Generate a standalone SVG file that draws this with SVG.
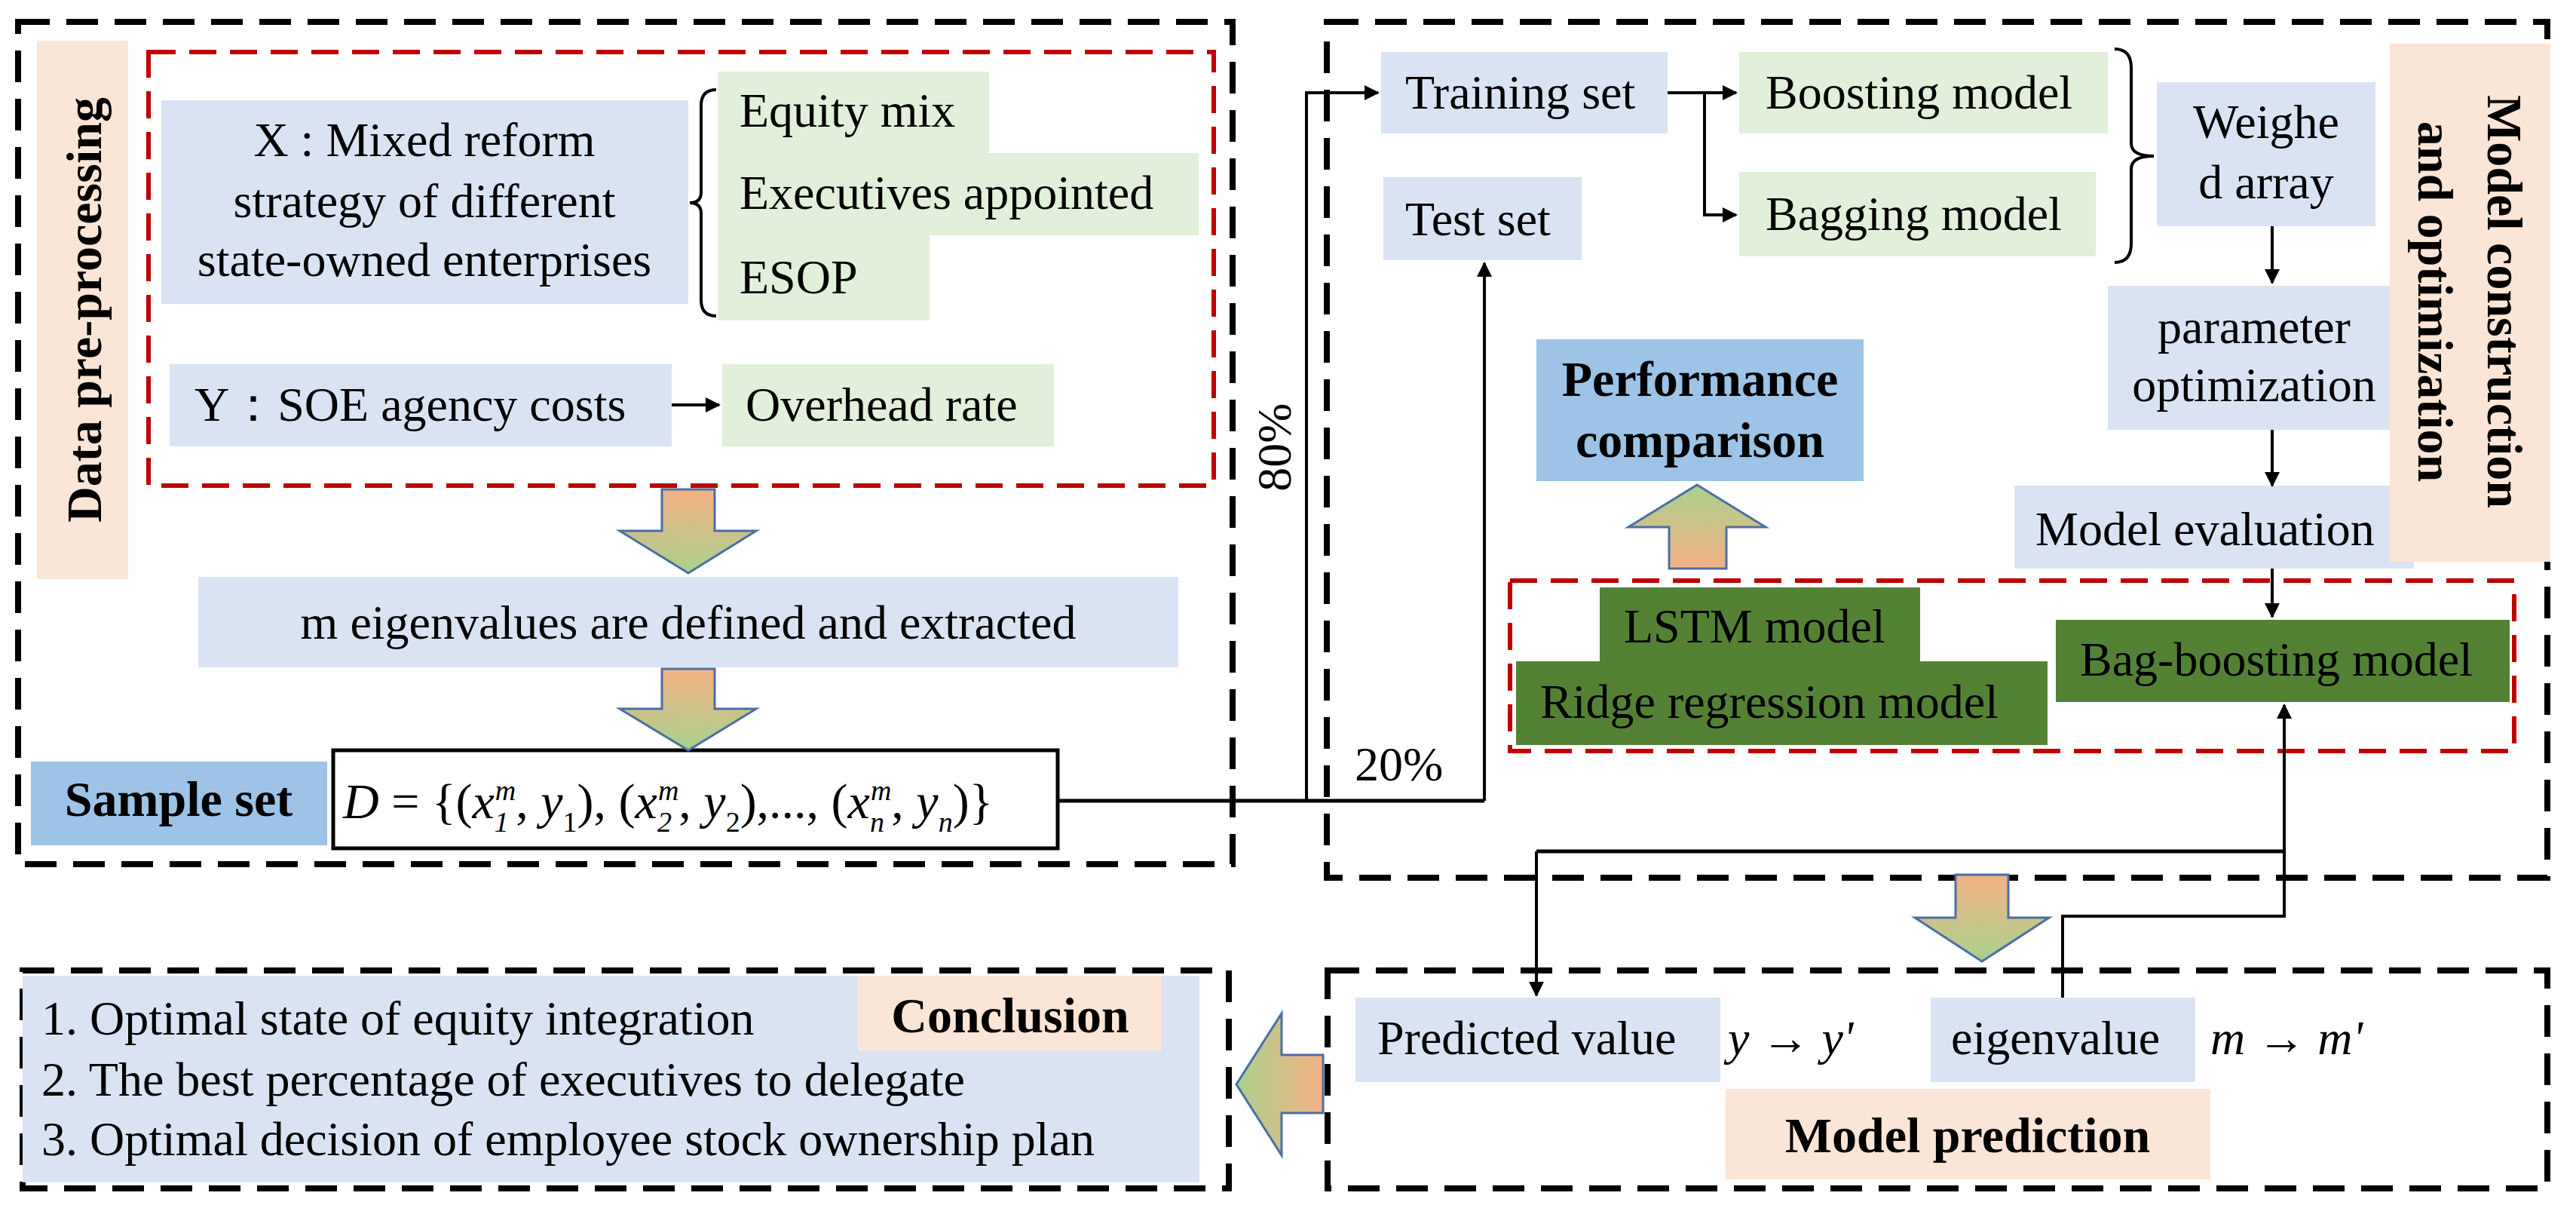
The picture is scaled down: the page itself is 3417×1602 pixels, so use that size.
<svg xmlns="http://www.w3.org/2000/svg" width="3417" height="1602" viewBox="0 0 3417 1602" font-family="'Liberation Serif', 'Times New Roman', serif">
<style>
text{font-family:'Liberation Serif','Times New Roman',Times,serif;fill:#000}
.t{font-size:64px}
.b{font-size:66px;font-weight:bold}
.lb{fill:#dae3f3}
.lg{fill:#e2efda}
.pe{fill:#fbe5d6}
.dg{fill:#548235}
.bd{fill:none;stroke:#000;stroke-width:8;stroke-dasharray:42 22}
.rd{fill:none;stroke:#c00000;stroke-width:6;stroke-dasharray:36 18}
.ln{fill:none;stroke:#000;stroke-width:4}
.th{fill:none;stroke:#000;stroke-width:5}
.big{stroke:#4a6fa5;stroke-width:3}
</style>
<defs>
<marker id="ah" viewBox="0 0 10 10" refX="9" refY="5" markerWidth="5" markerHeight="5" orient="auto"><path d="M0,0L10,5L0,10z" fill="#000"/></marker>
<linearGradient id="gd" x1="0" y1="0" x2="0" y2="1"><stop offset="0" stop-color="#f4b183"/><stop offset="1" stop-color="#a9d18e"/></linearGradient>
<linearGradient id="gu" x1="0" y1="1" x2="0" y2="0"><stop offset="0" stop-color="#f4b183"/><stop offset="1" stop-color="#a9d18e"/></linearGradient>
<linearGradient id="gl" x1="1" y1="0" x2="0" y2="0"><stop offset="0" stop-color="#f4b183"/><stop offset="1" stop-color="#a9d18e"/></linearGradient>
</defs>

<g id="frames">
<rect class="bd" x="24" y="29" width="1611" height="1117"/>
<rect class="bd" x="1760" y="29" width="1619" height="1135"/>
<rect class="bd" x="30" y="1287" width="1600" height="289"/>
<rect class="bd" x="1761" y="1287" width="1618" height="289"/>
<rect class="rd" x="197" y="69" width="1413" height="575"/>
<rect class="rd" x="2003" y="770" width="1332" height="226"/>
</g>

<g id="data-preprocessing">
<rect class="pe" x="49" y="54" width="121" height="714"/>
<text class="b" transform="translate(134,411) rotate(-90)" text-anchor="middle" font-size="76">Data pre-processing</text>
</g>
<g id="x-box"><rect class="lb" x="214" y="133" width="699" height="270"/>
<text class="t" x="563" text-anchor="middle"><tspan x="563" y="207">X : Mixed reform</tspan><tspan x="563" y="288">strategy of different</tspan><tspan x="563" y="366">state-owned enterprises</tspan></text></g>
<path class="ln" d="M950,119 Q930,119 930,140 L930,255 Q930,269 915,269 Q930,269 930,283 L930,398 Q930,419 950,419" stroke-width="3"/>
<g id="equity"><rect class="lg" x="952" y="95" width="360" height="108"/><text class="t" x="981" y="168">Equity mix</text></g>
<g id="executives"><rect class="lg" x="952" y="203" width="638" height="109"/><text class="t" x="981" y="277">Executives appointed</text></g>
<g id="esop"><rect class="lg" x="952" y="312" width="281" height="113"/><text class="t" x="981" y="389">ESOP</text></g>
<g id="y-box"><rect class="lb" x="225" y="483" width="666" height="109"/><text class="t" x="258" y="558">Y：SOE agency costs</text></g>
<g id="overhead"><rect class="lg" x="958" y="483" width="440" height="109"/><text class="t" x="989" y="558">Overhead rate</text></g>
<g id="eigen-def"><rect class="lb" x="263" y="765" width="1300" height="120"/><text class="t" x="913" y="847" text-anchor="middle" font-size="72">m eigenvalues are defined and extracted</text></g>
<g id="sample-set"><rect x="41" y="1010" width="393" height="111" fill="#9dc3e6"/><text class="b" x="237" y="1082" text-anchor="middle" font-size="58">Sample set</text></g>
<g id="d-box"><rect x="442" y="995" width="961" height="130" fill="#fff" stroke="#000" stroke-width="5"/>
<text x="455" y="1085" font-size="66" font-style="italic">D<tspan font-style="normal"> = {(</tspan>x<tspan font-size="38" dy="18">1</tspan><tspan font-size="38" dx="-18" dy="-42">m</tspan><tspan dy="24" font-style="normal">, </tspan>y<tspan font-size="38" dy="18" font-style="normal">1</tspan><tspan dy="-18" font-style="normal">), (</tspan>x<tspan font-size="38" dy="18">2</tspan><tspan font-size="38" dx="-18" dy="-42">m</tspan><tspan dy="24" font-style="normal">, </tspan>y<tspan font-size="38" dy="18" font-style="normal">2</tspan><tspan dy="-18" font-style="normal">),..., (</tspan>x<tspan font-size="38" dy="18">n</tspan><tspan font-size="38" dx="-18" dy="-42">m</tspan><tspan dy="24" font-style="normal">, </tspan>y<tspan font-size="38" dy="18">n</tspan><tspan dy="-18" font-style="normal">)}</tspan></text></g>

<g id="training"><rect class="lb" x="1832" y="69" width="380" height="108"/><text class="t" x="1864" y="144">Training set</text></g>
<g id="test"><rect class="lb" x="1835" y="235" width="263" height="110"/><text class="t" x="1864" y="312">Test set</text></g>
<g id="boosting"><rect class="lg" x="2307" y="69" width="489" height="108"/><text class="t" x="2342" y="144">Boosting model</text></g>
<g id="bagging"><rect class="lg" x="2307" y="228" width="473" height="112"/><text class="t" x="2342" y="305">Bagging model</text></g>
<path class="ln" d="M2805,65 Q2827,65 2827,90 L2827,190 Q2827,207 2857,207 Q2827,207 2827,224 L2827,323 Q2827,348 2805,348" stroke-width="3"/>
<g id="weighed"><rect class="lb" x="2861" y="109" width="290" height="191"/><text class="t" text-anchor="middle"><tspan x="3006" y="183">Weighe</tspan><tspan x="3006" y="263">d array</tspan></text></g>
<g id="param"><rect class="lb" x="2796" y="379" width="374" height="191"/><text class="t" text-anchor="middle"><tspan x="2990" y="455">parameter</tspan><tspan x="2990" y="532">optimization</tspan></text></g>
<g id="evaluation"><rect class="lb" x="2672" y="644" width="530" height="110"/><text class="t" x="2700" y="723">Model evaluation</text></g>
<g id="model-construction"><rect class="pe" x="3170" y="58" width="213" height="687"/>
<text class="b" transform="translate(3300,400) rotate(90)" text-anchor="middle" font-size="72">Model construction</text>
<text class="b" transform="translate(3208,400) rotate(90)" text-anchor="middle" font-size="72">and optimization</text></g>
<g id="performance"><rect x="2038" y="450" width="434" height="188" fill="#9dc3e6"/><text class="b" text-anchor="middle" font-size="62"><tspan x="2255" y="525">Performance</tspan><tspan x="2255" y="606">comparison</tspan></text></g>
<g id="lstm"><rect class="dg" x="2122" y="779" width="425" height="98"/><text class="t" x="2154" y="852">LSTM model</text></g>
<g id="ridge"><rect class="dg" x="2011" y="877" width="705" height="111"/><text class="t" x="2043" y="952">Ridge regression model</text></g>
<g id="bagboost"><rect class="dg" x="2727" y="822" width="602" height="109"/><text class="t" x="2759" y="896">Bag-boosting model</text></g>

<g id="conclusion"><rect class="lb" x="30" y="1294" width="1561" height="274"/>
<rect class="pe" x="1138" y="1294" width="403" height="100"/>
<text class="b" x="1340" y="1369" text-anchor="middle" font-size="64">Conclusion</text>
<text class="t" font-size="58"><tspan x="55" y="1372">1. Optimal state of equity integration</tspan><tspan x="55" y="1453">2. The best percentage of executives to delegate</tspan><tspan x="55" y="1532">3. Optimal decision of employee stock ownership plan</tspan></text></g>
<g id="predicted"><rect class="lb" x="1798" y="1323" width="484" height="112"/><text class="t" x="1827" y="1398">Predicted value</text><text class="t" x="2292" y="1398" font-style="italic">y → y'</text></g>
<g id="eigenvalue"><rect class="lb" x="2561" y="1323" width="351" height="112"/><text class="t" x="2588" y="1398">eigenvalue</text><text class="t" x="2932" y="1398" font-style="italic">m → m'</text></g>
<g id="model-prediction"><rect class="pe" x="2289" y="1444" width="643" height="120"/><text class="b" x="2610" y="1528" text-anchor="middle" font-size="66">Model prediction</text></g>

<g id="big-arrows">
<path class="big" fill="url(#gd)" d="M878,649H948V704H1003L913,760L822,704H878Z"/>
<path class="big" fill="url(#gd)" d="M878,887H948V940H1003L913,995L822,940H878Z"/>
<path class="big" fill="url(#gu)" d="M2214,754V699H2160L2251,643L2342,699H2290V754Z"/>
<path class="big" fill="url(#gd)" d="M2594,1160H2664V1217H2718L2629,1275L2540,1217H2594Z"/>
<path class="big" fill="url(#gl)" d="M1755,1399V1476H1700V1532L1640,1438L1700,1344V1399Z"/>
</g>

<g id="connectors">
<path class="th" d="M1403,1062H1969"/>
<path class="ln" d="M1733,1062V123H1828" marker-end="url(#ah)"/>
<path class="ln" d="M1969,1062V349" marker-end="url(#ah)"/>
<text class="t" transform="translate(1712,593) rotate(-90)" text-anchor="middle" font-size="56">80%</text>
<text class="t" x="1797" y="1035" font-size="56">20%</text>
<path class="ln" d="M891,537H954" marker-end="url(#ah)"/>
<path class="ln" d="M2212,123H2303" marker-end="url(#ah)"/>
<path class="ln" d="M2261,123V285H2303" marker-end="url(#ah)"/>
<path class="ln" d="M3014,300V375" marker-end="url(#ah)"/>
<path class="ln" d="M3014,570V644" marker-end="url(#ah)"/>
<path class="ln" d="M3014,754V818" marker-end="url(#ah)"/>
<path class="ln" d="M2736,1323V1215H3030V935" marker-end="url(#ah)"/>
<path class="th" d="M3030,1129H2038"/>
<path class="ln" d="M2038,1129V1320" marker-end="url(#ah)"/>
</g>
</svg>
